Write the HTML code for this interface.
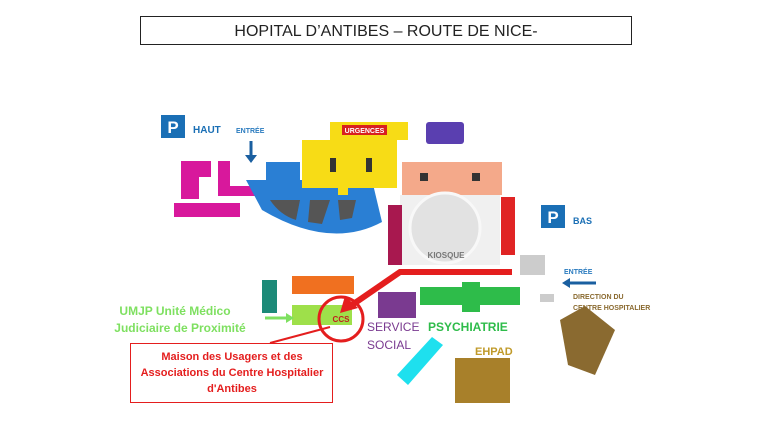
<!DOCTYPE html>
<html><head><meta charset="utf-8"><style>
html,body{margin:0;padding:0;background:#fff;width:768px;height:432px;overflow:hidden}
svg{display:block}
text{font-family:"Liberation Sans",sans-serif}
</style></head><body>
<svg width="768" height="432" viewBox="0 0 768 432">
<rect x="140.5" y="16.5" width="491" height="28" fill="#fff" stroke="#222" stroke-width="1"/>
<text x="386" y="36" font-size="16" text-anchor="middle" fill="#222">HOPITAL D’ANTIBES – ROUTE DE NICE-</text>

<!-- P HAUT -->
<rect x="161" y="115" width="24" height="23" fill="#1a6fb5"/>
<text x="173" y="133" font-size="17" font-weight="bold" fill="#fff" text-anchor="middle">P</text>
<text x="193" y="133" font-size="10" font-weight="bold" fill="#1a6fb5">HAUT</text>
<text x="236" y="133" font-size="7" font-weight="bold" fill="#2a7bbf">ENTRÉE</text>
<line x1="251" y1="141" x2="251" y2="156" stroke="#1a5fa0" stroke-width="3"/>
<path d="M245,155 L257,155 L251,163z" fill="#1a5fa0"/>

<!-- pink -->
<rect x="181" y="161" width="18" height="38" fill="#d8189c"/>
<rect x="199" y="161" width="12" height="16" fill="#d8189c"/>
<rect x="218" y="161" width="12" height="33" fill="#d8189c"/>
<rect x="218" y="186" width="42" height="10" fill="#d8189c"/>
<rect x="174" y="203" width="66" height="14" fill="#d8189c"/>
<!-- blue arc -->
<path d="M246,180 L372,180 L382,222 Q330,250 262,210z" fill="#2a7fd4"/>
<path d="M266,162 L300,162 L300,192 L266,192z" fill="#2a7fd4"/>
<path d="M270,200 L300,200 L296,220 Q280,215 270,200z" fill="#555"/>
<path d="M310,200 L330,200 L322,224 L308,222z" fill="#555"/>
<path d="M338,200 L356,200 L352,218 L340,220z" fill="#555"/>
<!-- yellow -->
<rect x="330" y="122" width="78" height="18" fill="#f7dc16"/>
<rect x="302" y="140" width="95" height="48" fill="#f7dc16"/>
<rect x="342" y="125" width="45" height="10" fill="#d82020"/>
<text x="364.5" y="133" font-size="7" font-weight="bold" fill="#fff" text-anchor="middle">URGENCES</text>
<rect x="330" y="158" width="6" height="14" fill="#333"/>
<rect x="366" y="158" width="6" height="14" fill="#333"/>
<rect x="338" y="185" width="10" height="10" fill="#f7dc16"/>
<!-- purple -->
<rect x="426" y="122" width="38" height="22" fill="#5a3fb0" rx="3"/>
<!-- salmon -->
<rect x="402" y="162" width="100" height="33" fill="#f4a98a"/>
<rect x="420" y="173" width="8" height="8" fill="#333"/>
<rect x="472" y="173" width="8" height="8" fill="#333"/>
<!-- kiosque -->
<rect x="400" y="195" width="100" height="70" fill="#f0f0f0"/>
<circle cx="445" cy="228" r="35" fill="#e2e2e2" stroke="#f8f8f8" stroke-width="3"/>
<text x="446" y="258" font-size="8" font-weight="bold" fill="#777" text-anchor="middle">KIOSQUE</text>
<rect x="388" y="205" width="14" height="60" fill="#a8184f"/>
<rect x="501" y="197" width="14" height="58" fill="#e02424"/>
<!-- P BAS -->
<rect x="541" y="205" width="24" height="23" fill="#1a6fb5"/>
<text x="553" y="223" font-size="17" font-weight="bold" fill="#fff" text-anchor="middle">P</text>
<text x="573" y="224" font-size="9" font-weight="bold" fill="#1a6fb5">BAS</text>
<rect x="520" y="255" width="25" height="20" fill="#ccc"/>
<text x="564" y="274" font-size="7" font-weight="bold" fill="#2a7bbf">ENTRÉE</text>
<line x1="596" y1="283" x2="568" y2="283" stroke="#1a5fa0" stroke-width="3"/>
<path d="M570,278 L562,283 L570,288z" fill="#1a5fa0"/>

<!-- lower -->
<rect x="262" y="280" width="15" height="33" fill="#1c8a78"/>
<rect x="292" y="276" width="62" height="18" fill="#f07020"/>
<rect x="292" y="305" width="60" height="20" fill="#9ee04a"/>
<text x="341" y="322" font-size="8" font-weight="bold" fill="#c02020" text-anchor="middle">CCS</text>
<circle cx="341" cy="319" r="22" fill="none" stroke="#e41e1e" stroke-width="3"/>
<polyline points="512,272 400,272 352,305" fill="none" stroke="#e41e1e" stroke-width="6"/>
<path d="M340,313 L345,296 L358,308z" fill="#e41e1e"/>
<line x1="265" y1="318" x2="288" y2="318" stroke="#7ee060" stroke-width="3"/>
<path d="M286,313 L294,318 L286,323z" fill="#7ee060"/>
<line x1="270" y1="343" x2="330" y2="327" stroke="#e41e1e" stroke-width="2"/>
<rect x="378" y="292" width="38" height="26" fill="#7a3a90"/>
<rect x="420" y="287" width="100" height="18" fill="#2ebc4a"/>
<rect x="462" y="282" width="18" height="30" fill="#2ebc4a"/>
<rect x="540" y="294" width="14" height="8" fill="#ccc"/>
<path d="M397,375 L432,337 L443,345 L408,385z" fill="#1ee0ee"/>
<rect x="455" y="358" width="55" height="45" fill="#a8802a"/>
<path d="M560,320 L585,306 L615,330 L595,375 L568,365z" fill="#8a6a30"/>
<!-- labels -->
<text x="175" y="315" font-size="12" font-weight="bold" fill="#7ee060" text-anchor="middle">UMJP Unité Médico</text>
<text x="180" y="332" font-size="12" font-weight="bold" fill="#7ee060" text-anchor="middle">Judiciaire de Proximité</text>
<text x="367" y="331" font-size="12" fill="#7a3a90">SERVICE</text>
<text x="367" y="349" font-size="12" fill="#7a3a90">SOCIAL</text>
<text x="428" y="331" font-size="12" font-weight="bold" fill="#2ebc4a">PSYCHIATRIE</text>
<text x="475" y="355" font-size="11" font-weight="bold" fill="#c09a2a">EHPAD</text>
<text x="573" y="299" font-size="7" font-weight="bold" fill="#8a6a30">DIRECTION DU</text>
<text x="573" y="310" font-size="7" font-weight="bold" fill="#8a6a30">CENTRE HOSPITALIER</text>
<rect x="130.5" y="343.5" width="202" height="59" fill="#fff" stroke="#e41e1e" stroke-width="1"/>
<g font-size="11" font-weight="bold" fill="#e41e1e" text-anchor="middle">
<text x="232" y="360">Maison des Usagers et des</text>
<text x="232" y="376">Associations du Centre Hospitalier</text>
<text x="232" y="392">d'Antibes</text></g>
</svg>
</body></html>
